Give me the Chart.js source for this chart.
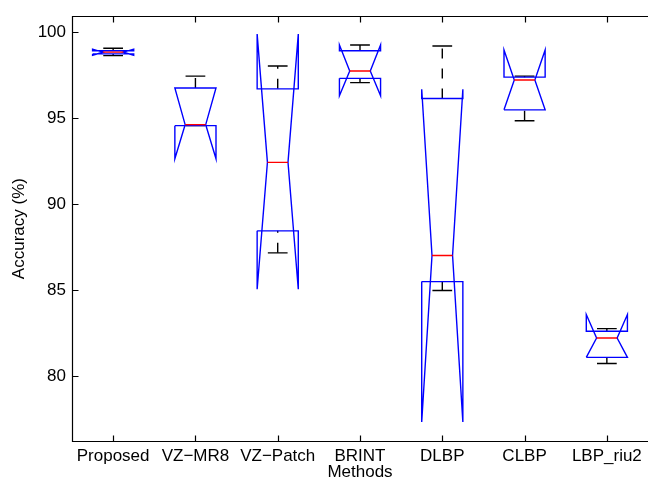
<!DOCTYPE html>
<html>
<head>
<meta charset="utf-8">
<script src="https://cdn.jsdelivr.net/npm/chart.js@4"></script>
<style>
  html, body { margin: 0; padding: 0; background: #fff; overflow: hidden; }
  #wrap { width: 648px; height: 485px; }
</style>
</head>
<body>
<div id="wrap"><canvas id="boxChart"></canvas></div>
<script>
const methods = ['Proposed', 'VZ\u2212MR8', 'VZ\u2212Patch', 'BRINT', 'DLBP', 'CLBP', 'LBP_riu2']
const yTicks = [80, 85, 90, 95, 100]

// box statistics (accuracy, %)
const whiskerHi = [99.05, 97.43, 98.02, 99.24, 99.18, 97.43, 82.76]
const upperQ    = [98.90, 96.74, 96.69, 98.90, 96.13, 97.37, 82.61]
const medians   = [98.82, 94.61, 92.42, 97.73, 87.01, 97.20, 82.21]
const lowerQ    = [98.72, 94.55, 88.44, 97.30, 85.49, 95.47, 81.09]
const whiskerLo = [98.62, 94.55, 87.16, 97.05, 84.97, 94.84, 80.73]
const notchHi   = [99.00, 96.74, 99.87, 99.24, 96.67, 98.95, 83.58]
const notchLo   = [98.64, 92.63, 85.05, 96.29, 77.33, 95.47, 81.09]

const W = 0.25   // half box width (category units)
const CAP = 0.12 // half whisker cap width

const gap = x => ({ x, y: null })

const outlines = []
const medianLines = []
const whiskers = []
const caps = []

methods.forEach((m, i) => {
  const x = i + 1
  outlines.push(
    { x: x - W, y: lowerQ[i] }, { x: x - W, y: notchLo[i] }, { x: x - W / 2, y: medians[i] },
    { x: x - W, y: notchHi[i] }, { x: x - W, y: upperQ[i] }, { x: x + W, y: upperQ[i] },
    { x: x + W, y: notchHi[i] }, { x: x + W / 2, y: medians[i] }, { x: x + W, y: notchLo[i] },
    { x: x + W, y: lowerQ[i] }, { x: x - W, y: lowerQ[i] }, gap(x)
  )
  medianLines.push({ x: x - W / 2, y: medians[i] }, { x: x + W / 2, y: medians[i] }, gap(x))
  whiskers.push({ x, y: upperQ[i] }, { x, y: whiskerHi[i] }, gap(x))
  whiskers.push({ x, y: whiskerLo[i] }, { x, y: lowerQ[i] }, gap(x))
  caps.push({ x: x - CAP, y: whiskerHi[i] }, { x: x + CAP, y: whiskerHi[i] }, gap(x))
  caps.push({ x: x - CAP, y: whiskerLo[i] }, { x: x + CAP, y: whiskerLo[i] }, gap(x))
})

function lineSet(data, color, dash) {
  return {
    data,
    borderColor: color,
    borderWidth: 1.4,
    borderDash: dash || [],
    pointRadius: 0,
    tension: 0,
    fill: false,
    spanGaps: false
  }
}

const font = { family: 'Liberation Sans, Arial, Helvetica, sans-serif', size: 17 }

// MATLAB style frame with inward ticks (right edge falls just outside the picture)
const frameTicks = {
  id: 'frameTicks',
  afterDraw(chart) {
    const { ctx, chartArea: a, scales: { x, y } } = chart
    ctx.save()
    ctx.strokeStyle = '#000'
    ctx.lineWidth = 1.2
    ctx.beginPath()
    const L = Math.round(a.left) + 0.5, R = Math.round(a.right) + 0.5
    const T = Math.round(a.top) + 0.5, B = Math.round(a.bottom) + 0.5
    ctx.moveTo(R, T); ctx.lineTo(L, T); ctx.lineTo(L, B); ctx.lineTo(R, B)
    x.ticks.forEach(t => {
      const px = Math.round(x.getPixelForValue(t.value)) + 0.5
      ctx.moveTo(px, B); ctx.lineTo(px, B - 6)
      ctx.moveTo(px, T); ctx.lineTo(px, T + 6)
    })
    y.ticks.forEach(t => {
      const py = Math.round(y.getPixelForValue(t.value)) + 0.5
      ctx.moveTo(L, py); ctx.lineTo(L + 6, py)
    })
    ctx.stroke()
    ctx.restore()
  }
}

new Chart(document.getElementById('boxChart'), {
  type: 'line',
  data: {
    datasets: [
      lineSet(medianLines, '#ff0000'),
      lineSet(outlines, '#0000ff'),
      lineSet(caps, '#000000'),
      lineSet(whiskers, '#000000', [10, 10])
    ]
  },
  options: {
    responsive: true,
    maintainAspectRatio: false,
    animation: false,
    layout: { padding: { top: 9, right: -2, left: 0, bottom: 0 } },
    plugins: { legend: { display: false }, tooltip: { enabled: false } },
    scales: {
      x: {
        type: 'linear',
        min: 0.5,
        max: 7.5,
        afterBuildTicks: s => { s.ticks = methods.map((m, i) => ({ value: i + 1 })) },
        afterFit: s => { s.height = 44 },
        ticks: {
          autoSkip: false,
          maxRotation: 0,
          padding: 5,
          color: '#000',
          font,
          callback: (v, i) => methods[i]
        },
        grid: { display: false, drawTicks: false },
        border: { display: false },
        title: { display: true, text: 'Methods', color: '#000', font, padding: { top: 0, bottom: 2 } }
      },
      y: {
        min: 76.23,
        max: 100.91,
        afterBuildTicks: s => { s.ticks = yTicks.map(v => ({ value: v })) },
        afterFit: s => { s.width = 72 },
        ticks: { padding: 6, color: '#000', font },
        grid: { display: false, drawTicks: false },
        border: { display: false },
        title: { display: true, text: 'Accuracy (%)', color: '#000', font, padding: { top: 9, bottom: 0 } }
      }
    }
  },
  plugins: [frameTicks]
})
</script>
</body>
</html>
